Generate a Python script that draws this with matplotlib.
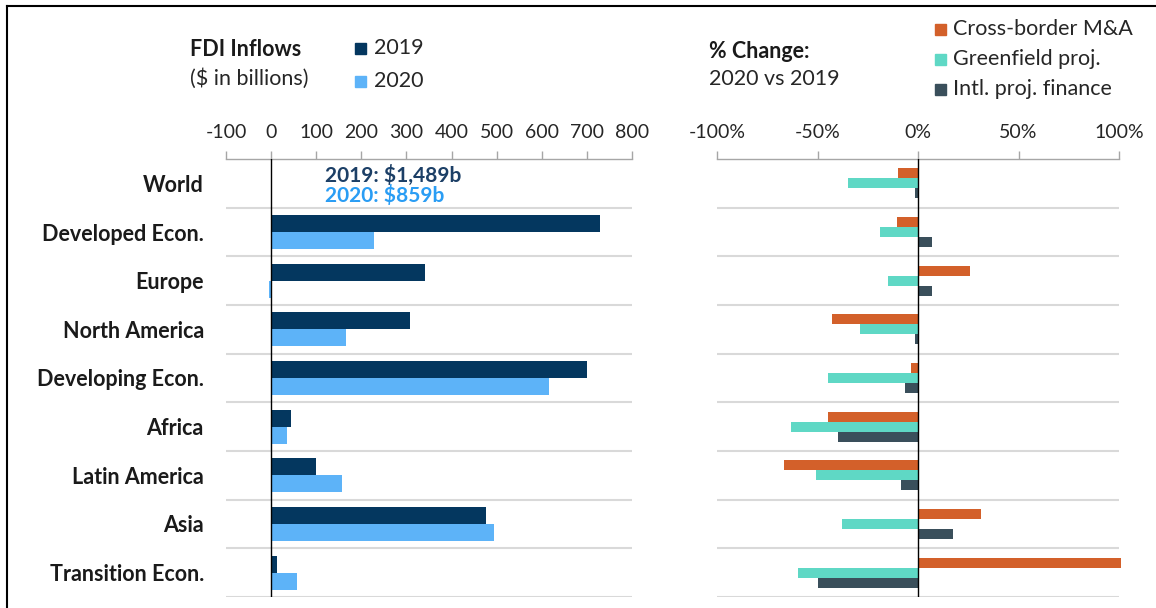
import numpy as np
import matplotlib.pyplot as plt
from matplotlib.patches import Rectangle
from matplotlib.lines import Line2D

plt.rcParams['font.family'] = ['Lato', 'DejaVu Sans']

# data
regions = ['World', 'Developed Econ.', 'Europe', 'North America', 'Developing Econ.',
           'Africa', 'Latin America', 'Asia', 'Transition Econ.']
fdi_2019 = [np.nan, 729, 342, 307, 700, 44, 100, 476, 12]
fdi_2020 = [np.nan, 228, -5, 165, 615, 35, 157, 493, 58]

pct_mna = [-10, -10.5, 26, -43, -3.5, -45, -66.5, 31.5, 101]
pct_greenfield = [-35, -19, -15, -29, -45, -63, -50.5, -38, -59.5]
pct_projfin = [-1.5, 7, 7, -1.5, -6.5, -40, -8.5, 17.5, -50]

left_ticks = [-100, 0, 100, 200, 300, 400, 500, 600, 700, 800]
right_ticks = [-100, -50, 0, 50, 100]

NAVY = '#04375f'
LIGHT = '#5db3f8'
ORANGE = '#d3602a'
TEAL = '#5fd8c5'
SLATE = '#3a4f5b'
GRID = '#d9d9d9'
SPINE = '#a6a6a6'
TXT = '#262626'

W, H = 1156, 608
fig = plt.figure(figsize=(W / 100, H / 100), dpi=100)


def fx(px):
    return px / W


def fy(py):
    return 1 - py / H


top, bottom = 159, 597
ax1 = fig.add_axes([fx(226), fy(bottom), fx(632) - fx(226), fy(top) - fy(bottom)])
ax2 = fig.add_axes([fx(717), fy(bottom), fx(1119) - fx(717), fy(top) - fy(bottom)])

y = np.arange(len(regions))


def style_axis(ax, ticks, labels):
    ax.set_ylim(len(regions) - 0.5, -0.5)
    ax.xaxis.tick_top()
    ax.set_xticks(ticks)
    ax.set_xticklabels(labels, fontsize=14, color=TXT)
    ax.tick_params(axis='x', direction='out', length=6, width=1, color=SPINE, pad=7)
    ax.tick_params(axis='y', length=0)
    for s in ['left', 'right', 'bottom']:
        ax.spines[s].set_visible(False)
    ax.spines['top'].set_color(SPINE)
    ax.spines['top'].set_linewidth(1)
    for b in np.arange(0.5, len(regions), 1.0):
        ax.axhline(b, color=GRID, lw=1.5, zorder=0)
    ax.axvline(0, color='black', lw=1, zorder=5)


# left panel: FDI inflows
h = 0.35
ax1.barh(y - h / 2, fdi_2019, height=h, color=NAVY, zorder=3)
ax1.barh(y + h / 2, fdi_2020, height=h, color=LIGHT, zorder=3)
ax1.set_xlim(-100, 800)
style_axis(ax1, left_ticks, [str(t) for t in left_ticks])
ax1.set_yticks(y)
ax1.set_yticklabels(regions, fontsize=15.5, fontweight='bold', color='#1a1a1a')
ax1.tick_params(axis='y', pad=16)

ax1.text(120, -0.17, '2019: $1,489b', color='#1c3f66', fontsize=15, fontweight='bold', va='center')
ax1.text(120, 0.24, '2020: $859b', color='#2a9df4', fontsize=15, fontweight='bold', va='center')

# right panel: % change
h2 = 0.205
ax2.barh(y - h2, pct_mna, height=h2, color=ORANGE, zorder=3, clip_on=False)
ax2.barh(y, pct_greenfield, height=h2, color=TEAL, zorder=3)
ax2.barh(y + h2, pct_projfin, height=h2, color=SLATE, zorder=3)
ax2.set_xlim(-100, 100)
style_axis(ax2, right_ticks, ['%d%%' % t for t in right_ticks])
ax2.set_yticks([])

# headers and legends
fig.text(fx(190), fy(49), 'FDI Inflows', fontsize=15.5, fontweight='bold', va='center', color='#1a1a1a')
fig.text(fx(190), fy(79), '($ in billions)', fontsize=15.5, va='center', color=TXT)
for py, col, lab in [(48, NAVY, '2019'), (81, LIGHT, '2020')]:
    fig.patches.append(Rectangle((fx(355), fy(py + 6)), fx(11), 11 / H, color=col,
                                 transform=fig.transFigure))
    fig.text(fx(374), fy(py), lab, fontsize=15.5, va='center', color=TXT)

fig.text(fx(709), fy(51), '% Change:', fontsize=15.5, fontweight='bold', va='center', color='#1a1a1a')
fig.text(fx(709), fy(79), '2020 vs 2019', fontsize=15.5, va='center', color=TXT)
for py, col, lab in [(29, ORANGE, 'Cross-border M&A'), (59, TEAL, 'Greenfield proj.'),
                     (89, SLATE, 'Intl. proj. finance')]:
    fig.patches.append(Rectangle((fx(935), fy(py + 6)), fx(11), 11 / H, color=col,
                                 transform=fig.transFigure))
    fig.text(fx(953), fy(py), lab, fontsize=15.5, va='center', color=TXT)

# outer frame (top and left edges)
fig.lines.append(Line2D([fx(7), 1], [fy(6), fy(6)], color='black', lw=1.5, transform=fig.transFigure))
fig.lines.append(Line2D([fx(7), fx(7)], [0, fy(6)], color='black', lw=1.5, transform=fig.transFigure))

fig.savefig('out.png', dpi=100)
